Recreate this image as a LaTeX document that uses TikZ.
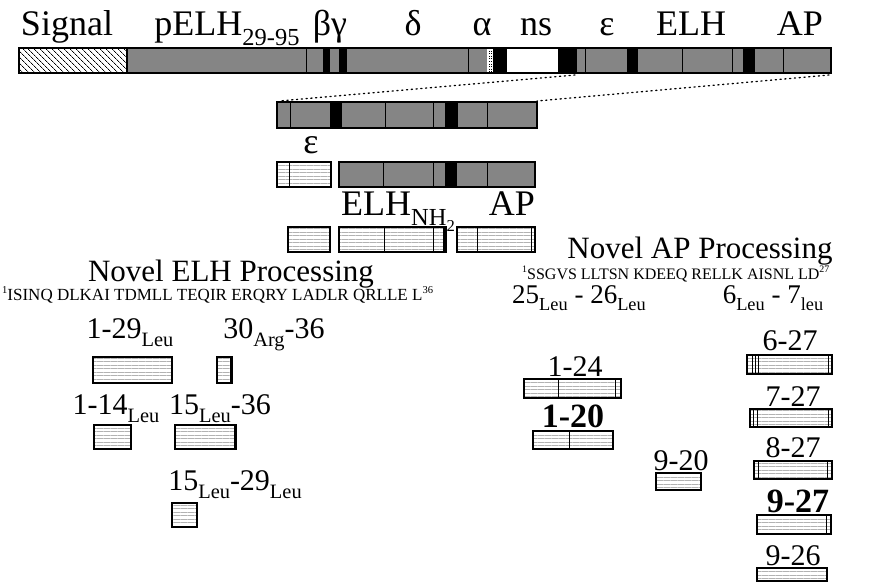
\documentclass[tikz,border=0pt]{standalone}
\usepackage{fontspec}
\setmainfont{Liberation Serif}
\usepackage{graphicx}
\usetikzlibrary{patterns.meta}
\newcommand\dn[1]{\raisebox{-0.28em}{\scalebox{0.68}{#1}}}
\newcommand\up[1]{\raisebox{0.38em}{\scalebox{0.62}{#1}}}
\newcommand\vl[3]{\draw[line width=1pt] (#1,#2) -- (#1,#3);}
\newcommand\blk[4]{\fill[black] (#1,#2) rectangle (#3,#4);}
\tikzset{
  lt/.style={line width=1.4pt, preaction={fill=white},
    pattern={Lines[angle=0,distance=3.5pt,line width=0.4pt]}, pattern color=black!30},
  dk/.style={fill=black!48},
  outl/.style={draw=black, line width=1.4pt},
  hatchbox/.style={line width=1.4pt, preaction={fill=white},
    pattern={Lines[angle=-45,distance=4pt,line width=0.8pt]}, pattern color=black},
  lab/.style={inner sep=0pt, anchor=base},
  fBig/.style={font=\fontsize{36}{40}\selectfont},
  fTtl/.style={font=\fontsize{31}{34}\selectfont},
  fNum/.style={font=\fontsize{30}{33}\selectfont},
  fCut/.style={font=\fontsize{27}{30}\selectfont},
  fBold/.style={font=\fontsize{34}{36}\selectfont\bfseries},
  fSeq/.style={font=\fontsize{17}{19}\selectfont},
  dotl/.style={line width=1.3pt, dash pattern=on 1.2pt off 3.6pt, line cap=round},
}
\begin{document}
\begin{tikzpicture}[x=1pt,y=-1pt]
\useasboundingbox (0,0) rectangle (870,582);
% ---------- top bar ----------
\draw[hatchbox] (19,48) rectangle (127,73);
\fill[dk] (127,48) rectangle (831,73);
\blk{323}{48}{330}{73}
\blk{339}{48}{347}{73}
\fill[white] (487,48) rectangle (493,73);
\draw[line width=0.6pt, dotted] (489,48) -- (489,73);
\draw[line width=0.6pt, dotted] (491,48) -- (491,73);
\blk{493}{48}{507}{73}
\fill[white] (507,48) rectangle (558,73);
\blk{558}{48}{577}{73}
\blk{627}{48}{638}{73}
\blk{743}{48}{755}{73}
\vl{306}{48}{73}
\vl{468}{48}{73}
\vl{585}{48}{73}
\vl{682}{48}{73}
\vl{732}{48}{73}
\vl{783}{48}{73}
\draw[outl] (19,48) rectangle (831,73);
\draw[line width=1.4pt] (127,48) -- (127,73);
\coordinate (tL) at (575,75);
\coordinate (tR) at (829,75);
% ---------- second bar ----------
\fill[dk] (277,102) rectangle (537,128);
\blk{330}{102}{342}{128}
\blk{445}{102}{458}{128}
\vl{290}{102}{128}
\vl{385}{102}{128}
\vl{433}{102}{128}
\vl{487}{102}{128}
\draw[outl] (277,102) rectangle (537,128);
\coordinate (sL) at (279,101);
\coordinate (sR) at (537,101);
\draw[dotl] (tL) -- (sL);
\draw[dotl] (tR) -- (sR);
% ---------- third row ----------
\draw[lt] (277,162) rectangle (331,187);
\vl{289}{162}{187}
\fill[dk] (339,162) rectangle (535,187);
\blk{445}{162}{457}{187}
\vl{383}{162}{187}
\vl{433}{162}{187}
\vl{487}{162}{187}
\draw[outl] (339,162) rectangle (535,187);
% ---------- fourth row ----------
\draw[lt] (288,227) rectangle (330,252);
\draw[lt] (339,227) rectangle (446,252);
\vl{384}{227}{252}
\vl{433}{227}{252}
\draw[line width=2.4pt] (444,227) -- (444,252);
\draw[lt] (457,227) rectangle (535,252);
\vl{477}{227}{252}
\vl{531}{227}{252}
% ---------- top labels ----------
\node[lab,fBig] (lsig) at (67,35) {Signal};
\node[lab,fBig] (lpelh) at (227,35) {pELH\dn{29-95}};
\node[lab,fBig] (lbg) at (330,35) {βγ};
\node[lab,fBig] (ld) at (413,35) {δ};
\node[lab,fBig] (la) at (482,35) {α};
\node[lab,fBig] (lns) at (536,35) {ns};
\node[lab,fBig] (le) at (607,35) {ε};
\node[lab,fBig] (lelh) at (691,35) {ELH};
\node[lab,fBig] (lap) at (800,35) {AP};
\node[lab,fBig] (le2) at (311,153) {ε};
\node[lab,fBig] (lelhn) at (398,215) {ELH\dn{NH\dn{2}}};
\node[lab,fBig] (lap2) at (512,215) {AP};
% ---------- ELH processing ----------
\node[lab,fTtl] (tElh) at (231,281) {Novel ELH Processing};
\node[lab,fSeq,anchor=base west] (sElh) at (2,300) {\up{1}ISINQ DLKAI TDMLL TEQIR ERQRY LADLR QRLLE L\up{36}};
\node[lab,fNum] (n129) at (130,338) {1-29\dn{Leu}};
\node[lab,fNum] (n3036) at (274,338) {30\dn{Arg}-36};
\node[lab,fNum] (n114) at (116,414) {1-14\dn{Leu}};
\node[lab,fNum] (n1536) at (220,414) {15\dn{Leu}-36};
\node[lab,fNum] (n1529) at (235,490) {15\dn{Leu}-29\dn{Leu}};
\draw[lt] (93,357) rectangle (172,383);
\draw[lt] (217,357) rectangle (232,383);
\draw[line width=2.4pt] (231,357) -- (231,383);
\draw[lt] (94,425) rectangle (131,449);
\draw[lt] (175,425) rectangle (236,449);
\draw[line width=2.4pt] (235,425) -- (235,449);
\draw[lt] (172,503) rectangle (197,527);
% ---------- AP processing ----------
\node[lab,fTtl] (tAp) at (700,258) {Novel AP Processing};
\node[lab,anchor=base west,font=\fontsize{16}{18}\selectfont] (sAp) at (522,279) {\up{1}SSGVS LLTSN KDEEQ RELLK AISNL LD\up{27}};
\node[lab,fCut] (n2526) at (579,303) {25\dn{Leu} - 26\dn{Leu}};
\node[lab,fCut] (n67) at (773,303) {6\dn{Leu} - 7\dn{leu}};
\node[lab,fNum] (n627) at (790,350) {6-27};
\node[lab,fNum] (n124) at (575,376) {1-24};
\node[lab,fBold] (n120) at (573,427) {1-20};
\node[lab,fNum] (n920) at (681,470) {9-20};
\node[lab,fNum] (n727) at (793,406) {7-27};
\node[lab,fNum] (n827) at (793,457) {8-27};
\node[lab,fBold] (n927) at (798,512) {9-27};
\node[lab,fNum] (n926) at (793,565) {9-26};
% boxes
\draw[lt] (524,379) rectangle (621,398);
\vl{558}{379}{398}
\vl{615}{379}{398}
\draw[lt] (533,431) rectangle (613,449);
\vl{569}{431}{449}
\draw[lt] (656,473) rectangle (701,490);
\draw[lt] (747,355) rectangle (832,374);
\vl{752}{355}{374}
\vl{755}{355}{374}
\vl{758}{355}{374}
\vl{828}{355}{374}
\draw[lt] (750,409) rectangle (832,427);
\vl{753}{409}{427}
\vl{757}{409}{427}
\vl{828}{409}{427}
\draw[lt] (754,461) rectangle (832,479);
\vl{758}{461}{479}
\vl{827}{461}{479}
\draw[lt] (757,515) rectangle (831,534);
\vl{826}{515}{534}
\draw[lt] (757,568) rectangle (827,581);
\end{tikzpicture}
\end{document}
